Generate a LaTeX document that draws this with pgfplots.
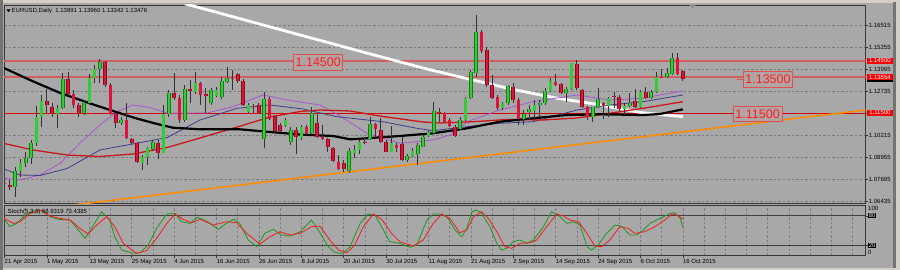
\documentclass[border=0pt]{standalone}
\usepackage{pgfplots}
\usepackage{pgfplotstable}
\pgfplotsset{compat=1.18}
\usepackage{fontspec}
\setmainfont{Liberation Sans}
\definecolor{chartbg}{RGB}{168,168,168}
\definecolor{framebg}{RGB}{212,208,200}
\definecolor{gridc}{RGB}{125,125,125}
\definecolor{axc}{RGB}{55,55,55}
\definecolor{bullin}{RGB}{50,205,50}
\definecolor{bullout}{RGB}{25,120,25}
\definecolor{bearin}{RGB}{220,20,60}
\definecolor{bearout}{RGB}{130,10,25}
\definecolor{wickc}{RGB}{50,50,50}
\definecolor{maRed}{RGB}{200,25,25}
\definecolor{maPurple}{RGB}{170,85,210}
\definecolor{maBlue}{RGB}{65,60,140}
\definecolor{hlinec}{RGB}{210,95,95}
\definecolor{lblred}{RGB}{255,30,30}
\definecolor{boxline}{RGB}{225,80,80}
\definecolor{boxfill}{RGB}{176,164,164}
\definecolor{trendc}{RGB}{255,140,0}
\definecolor{stochG}{RGB}{30,150,30}
\definecolor{stochR}{RGB}{240,30,30}
\newcommand\sm{\fontsize{6}{7}\selectfont}

\pgfplotstableread{
i o h l c
2 1.07258 1.08408 1.06683 1.08178
3 1.08178 1.08833 1.07833 1.08638
4 1.08603 1.09270 1.08408 1.08891
5 1.08891 1.09943 1.08563 1.09788
6 1.09788 1.11898 1.09598 1.11248
7 1.11248 1.12531 1.10708 1.12186
10 1.11438 1.11956 1.10616 1.11800
11 1.11800 1.13778 1.11708 1.13433
15 1.11478 1.12243 1.11381 1.12053
16 1.12053 1.13738 1.11956 1.13491
17 1.13491 1.14256 1.13238 1.14026
18 1.14026 1.14583 1.13203 1.14411
22 1.10903 1.11283 1.10806 1.11093
26 1.08638 1.09081 1.08218 1.08983
27 1.08983 1.09558 1.08506 1.09466
28 1.09408 1.09943 1.09328 1.09845
30 1.09213 1.11956 1.09178 1.11438
31 1.11438 1.12818 1.11283 1.12663
34 1.11093 1.13106 1.10995 1.12876
36 1.12720 1.13870 1.12588 1.13238
39 1.12053 1.12916 1.11956 1.12818
40 1.12473 1.13008 1.12398 1.12818
41 1.12433 1.13548 1.12283 1.13336
42 1.13295 1.14158 1.13203 1.13525
46 1.11570 1.12053 1.11513 1.11956
49 1.09983 1.12720 1.09466 1.12283
53 1.10743 1.11191 1.10708 1.11093
54 1.09845 1.10708 1.09656 1.10518
56 1.10041 1.10806 1.09943 1.10708
58 1.10328 1.11823 1.10231 1.11513
65 1.08178 1.09466 1.08028 1.09328
66 1.09178 1.09656 1.08891 1.09368
67 1.09368 1.09943 1.09138 1.09845
69 1.10001 1.11283 1.09943 1.10846
73 1.09270 1.10765 1.09236 1.09753
76 1.08793 1.09138 1.08695 1.09023
77 1.09040 1.09466 1.08966 1.09328
78 1.09138 1.09753 1.08506 1.09656
79 1.09558 1.10231 1.09523 1.10133
80 1.10190 1.10518 1.10133 1.10420
81 1.10328 1.12145 1.10271 1.11611
86 1.10576 1.11283 1.10518 1.11093
87 1.11093 1.12433 1.11036 1.12375
88 1.12341 1.13968 1.12283 1.13836
89 1.13824 1.17131 1.13583 1.16170
94 1.11766 1.12145 1.11668 1.12053
95 1.12053 1.13106 1.11956 1.13065
98 1.11133 1.11668 1.10806 1.11421
99 1.11570 1.11956 1.11093 1.11708
100 1.11628 1.12243 1.11093 1.11956
101 1.11956 1.12243 1.11283 1.12053
102 1.12053 1.12916 1.11956 1.12761
103 1.12761 1.13491 1.12720 1.13336
106 1.12628 1.13008 1.12145 1.12876
107 1.12876 1.14388 1.12818 1.14353
111 1.11248 1.11858 1.10995 1.11823
112 1.11823 1.12916 1.11766 1.12283
114 1.11898 1.12433 1.11283 1.12375
117 1.11708 1.12053 1.11381 1.11898
118 1.11898 1.12628 1.11823 1.12053
120 1.11823 1.12818 1.11766 1.12720
122 1.12341 1.12818 1.12283 1.12720
123 1.12720 1.13870 1.12663 1.13548
125 1.13548 1.14066 1.13491 1.13778
126 1.13738 1.14928 1.13681 1.14675
}\bull

\pgfplotstableread{
i o h l c
0 1.07442 1.07585 1.07240 1.07384
1 1.07356 1.07643 1.07068 1.07258
8 1.12186 1.12858 1.11478 1.11956
9 1.11858 1.12088 1.11283 1.11438
12 1.13433 1.13870 1.12473 1.12588
13 1.12588 1.12818 1.11766 1.11956
14 1.11956 1.12053 1.11283 1.11478
19 1.14411 1.14457 1.13008 1.13106
20 1.13106 1.13203 1.11381 1.11438
21 1.11438 1.11513 1.10616 1.10903
23 1.11093 1.12053 1.09983 1.10041
24 1.09983 1.10041 1.09713 1.09753
25 1.09753 1.09845 1.08603 1.08695
29 1.09753 1.09943 1.08833 1.09213
32 1.12663 1.13778 1.12243 1.12341
33 1.12341 1.12531 1.10903 1.11093
35 1.12876 1.13393 1.12053 1.12778
37 1.13203 1.13295 1.11956 1.12531
38 1.12588 1.12916 1.11478 1.12490
43 1.13491 1.13968 1.12818 1.13433
44 1.13721 1.13778 1.13203 1.13353
45 1.13353 1.13433 1.11898 1.11956
47 1.11898 1.11996 1.11478 1.11823
48 1.11956 1.12053 1.11478 1.11513
50 1.12283 1.12398 1.11093 1.11133
51 1.11323 1.11381 1.10420 1.10461
52 1.10788 1.10903 1.10420 1.10461
55 1.10518 1.10708 1.09138 1.10133
57 1.10708 1.10806 1.10231 1.10328
59 1.10903 1.11478 1.10041 1.10098
60 1.10133 1.10806 1.09943 1.09983
61 1.09983 1.10041 1.09270 1.09523
62 1.09466 1.09558 1.08695 1.08753
63 1.08695 1.09081 1.08218 1.08258
64 1.08621 1.08793 1.08103 1.08247
68 1.09845 1.10133 1.09696 1.09753
70 1.10846 1.10903 1.10041 1.10576
71 1.10518 1.11191 1.09753 1.09811
72 1.09811 1.09943 1.09236 1.09270
74 1.09656 1.09753 1.09270 1.09500
75 1.09696 1.10133 1.08736 1.08793
82 1.11570 1.11766 1.10995 1.11478
83 1.11478 1.11536 1.10961 1.10995
84 1.11093 1.11191 1.10708 1.10765
85 1.10708 1.10806 1.10133 1.10190
90 1.16170 1.16268 1.14946 1.15061
91 1.15118 1.15308 1.13008 1.13106
92 1.13106 1.13681 1.12301 1.12375
93 1.12433 1.12531 1.11668 1.11766
96 1.13008 1.13203 1.12053 1.12243
97 1.12243 1.12341 1.10806 1.11133
104 1.13278 1.13721 1.13065 1.13106
105 1.13146 1.13203 1.12588 1.12628
108 1.14296 1.14543 1.12818 1.12916
109 1.12818 1.12858 1.11766 1.11823
110 1.11823 1.11898 1.11093 1.11248
113 1.12053 1.12145 1.11133 1.11898
115 1.12473 1.12720 1.11766 1.12398
116 1.12433 1.12531 1.11628 1.11708
119 1.12186 1.12858 1.11766 1.11823
121 1.12720 1.13008 1.12301 1.12341
124 1.13566 1.14008 1.13491 1.13525
127 1.14675 1.14928 1.13681 1.13738
128 1.13891 1.13960 1.13342 1.13476
}\bear

\begin{document}
\begin{tikzpicture}
\useasboundingbox (0pt,0pt) rectangle (900pt,270pt);
\fill[framebg] (0pt,0pt) rectangle (900pt,270pt);
\fill[chartbg] (2pt,2pt) rectangle (894pt,267pt);
\fill[black!55] (893pt,2pt) rectangle (896pt,268pt);
\fill[black!55] (0pt,0pt) rectangle (2.5pt,270pt);

% ---------------- main price panel ----------------
\begin{axis}[
  at={(4pt,66.7pt)}, anchor=south west, scale only axis,
  width=861.7pt, height=198.3pt,
  xmin=-0.1, xmax=162.5, ymin=1.06303, ymax=1.17706,
  axis line style={draw=axc, line width=0.8pt},
  xtick=\empty, minor xtick={0,4,...,160},
  xminorgrids,
  minor x grid style={gridc, dash pattern=on 2.5pt off 2pt, line width=0.6pt},
  ytick={1.06435,1.07695,1.08955,1.10215,1.11475,1.12735,1.13995,1.15255,1.16515},
  yticklabels={1.06435,1.07695,1.08955,1.10215,{},1.12735,1.13995,1.15255,1.16515},
  ymajorgrids,
  major y grid style={gridc, dash pattern=on 2.5pt off 2pt, line width=0.6pt},
  ytick pos=right, yticklabel pos=right,
  yticklabel style={font=\sm, anchor=west, inner sep=0pt, xshift=1pt},
  tick align=outside, major tick length=2pt, minor tick length=0pt,
  tick style={draw=axc, line width=0.6pt},
  clip mode=individual,
]
% horizontal levels and trend line
\addplot[hlinec, line width=1.6pt] coordinates {(-1,1.14500) (170,1.14500)};
\addplot[hlinec, line width=1.6pt] coordinates {(-1,1.13554) (170,1.13554)};
\addplot[red!85!black, line width=0.8pt] coordinates {(-1,1.11500) (170,1.11500)};
\addplot[trendc, line width=1.6pt] coordinates {(10,1.06098) (162.5,1.11668)};
% moving averages
\addplot[white, line width=2.8pt] coordinates {(34,1.17780)(40,1.17286)(48,1.16624)(56,1.15963)(64,1.15302)(72,1.14646)(80,1.14003)(88,1.13422)(96,1.12847)(104,1.12358)(112,1.11984)(120,1.11524)(128,1.11283)};
\addplot[maPurple, line width=0.8pt] coordinates {(0.1,1.07741)(2.9,1.07643)(6.7,1.07931)(10.5,1.08603)(14.2,1.09753)(18,1.10805)(21.2,1.11570)(24.2,1.11956)(27.5,1.11812)(30.7,1.11478)(38.2,1.11496)(43.1,1.11858)(48.8,1.12531)(53.3,1.12243)(59.5,1.11956)(62.7,1.11438)(68.4,1.10328)(74.6,1.09753)(80.8,1.09943)(84.1,1.10230)(87.3,1.10995)(93.5,1.11668)(99.7,1.12145)(108,1.12531)(114.2,1.12243)(120.5,1.12341)(123.7,1.12531)(128,1.12761)};
\addplot[maBlue, line width=0.8pt] coordinates {(-0.9,1.08362)(2.9,1.07931)(6.7,1.07902)(11.8,1.08304)(18,1.09368)(24.2,1.09713)(30.7,1.10087)(36.9,1.11093)(43.9,1.11766)(50.1,1.11956)(56.3,1.11726)(62.7,1.11283)(71.4,1.10995)(77.8,1.10616)(80.8,1.10478)(87.3,1.10708)(93.5,1.10903)(99.7,1.10995)(108,1.11668)(114.2,1.11956)(120.5,1.12145)(128,1.12531)};
\addplot[maRed, line width=1.3pt] coordinates {(-0.9,1.09799)(5.4,1.09368)(11.8,1.09080)(18,1.08994)(24.2,1.09138)(30.7,1.09512)(36.9,1.10058)(43.9,1.10690)(50.1,1.11266)(55.8,1.11582)(59.5,1.11668)(65.2,1.11611)(71.4,1.11294)(79,1.10978)(82.2,1.10921)(88.4,1.10995)(94.8,1.11122)(101.6,1.11093)(108,1.11208)(114.2,1.11478)(120.5,1.11766)(128,1.12145)};
\addplot[black, line width=2.2pt] coordinates {(-0.9,1.14112)(0,1.14066)(4.8,1.13393)(10.5,1.12646)(16.1,1.12053)(19.9,1.11668)(24.6,1.11208)(28.8,1.10863)(31.8,1.10650)(36.9,1.10558)(44.4,1.10558)(49.5,1.10420)(55.8,1.10259)(62,1.10173)(65.2,1.09983)(68.4,1.10041)(74.6,1.10173)(80.8,1.10328)(87.3,1.10616)(93.5,1.10995)(99.7,1.11191)(106.1,1.11380)(112.4,1.11421)(120.5,1.11380)(123.7,1.11438)(128,1.11708)};
% candles: wicks
\addplot[quiver={u=0,v=\thisrow{h}-\thisrow{l}}, draw=wickc, line width=0.9pt] table[x=i,y=l]{\bull};
\addplot[quiver={u=0,v=\thisrow{h}-\thisrow{l}}, draw=wickc, line width=0.9pt] table[x=i,y=l]{\bear};
% bodies
\addplot[quiver={u=0,v=\thisrow{c}-\thisrow{o}}, draw=bullout, line width=3.6pt] table[x=i,y=o]{\bull};
\addplot[quiver={u=0,v=\thisrow{c}-\thisrow{o}}, draw=bullin, line width=2.4pt] table[x=i,y=o]{\bull};
\addplot[quiver={u=0,v=\thisrow{c}-\thisrow{o}}, draw=bearout, line width=3.6pt] table[x=i,y=o]{\bear};
\addplot[quiver={u=0,v=\thisrow{c}-\thisrow{o}}, draw=bearin, line width=2.4pt] table[x=i,y=o]{\bear};
% text objects
\node[draw=boxline, line width=0.8pt, fill=boxfill, text=lblred, font=\fontsize{12.5}{13}\selectfont, inner sep=0pt, minimum width=49pt, minimum height=15.7pt] at (axis cs:59.2,1.14417) {1.14500};
\draw[boxline, line width=0.8pt] (axis cs:138.2,1.13433) -- (axis cs:139.4,1.13433);
\node[draw=boxline, line width=0.8pt, fill=boxfill, text=lblred, font=\fontsize{12.5}{13}\selectfont, inner sep=0pt, minimum width=49pt, minimum height=15.7pt] at (axis cs:144.06,1.13422) {1.13500};
\node[draw=boxline, line width=0.8pt, fill=boxfill, text=lblred, font=\fontsize{12.5}{13}\selectfont, inner sep=0pt, minimum width=49pt, minimum height=15.7pt] at (axis cs:142.1,1.11447) {1.11500};
% price-scale tags
\node[anchor=west, fill=red, text=white, font=\sm, inner sep=0pt, minimum width=26pt, minimum height=6.2pt, xshift=1pt] at ({rel axis cs:1,0}|-{axis cs:0,1.14500}) {1.14500};
\node[anchor=west, fill=black, text=white, font=\sm, inner sep=0pt, minimum width=26pt, minimum height=6.2pt, xshift=1pt] at ({rel axis cs:1,0}|-{axis cs:0,1.13476}) {};
\node[anchor=west, fill=red, text=white, font=\sm, inner sep=0pt, minimum width=26pt, minimum height=6.2pt, xshift=1pt] at ({rel axis cs:1,0}|-{axis cs:0,1.13554}) {1.13554};
\node[anchor=west, fill=red, text=white, font=\sm, inner sep=0pt, minimum width=26pt, minimum height=6.2pt, xshift=1pt] at ({rel axis cs:1,0}|-{axis cs:0,1.11500}) {1.11500};
\end{axis}

% ---------------- stochastic panel ----------------
\begin{axis}[
  at={(4pt,14.3pt)}, anchor=south west, scale only axis,
  width=861.7pt, height=50.7pt,
  xmin=-0.1, xmax=162.5, ymin=-1, ymax=102,
  axis line style={draw=axc, line width=0.8pt},
  xtick={0,8,...,128},
  xticklabels={21 Apr 2015,1 May 2015,13 May 2015,25 May 2015,4 Jun 2015,16 Jun 2015,26 Jun 2015,8 Jul 2015,20 Jul 2015,30 Jul 2015,11 Aug 2015,21 Aug 2015,2 Sep 2015,14 Sep 2015,24 Sep 2015,6 Oct 2015,16 Oct 2015},
  xticklabel style={font=\sm, anchor=north west, inner sep=0pt, yshift=-1pt},
  xtick pos=left,
  minor xtick={0,4,...,160}, xminorgrids,
  minor x grid style={gridc, dash pattern=on 2.5pt off 2pt, line width=0.6pt},
  ytick={20,80}, yticklabels={20,80},
  ymajorgrids, major y grid style={black!75, line width=1pt},
  ytick pos=right, yticklabel pos=right,
  yticklabel style={font=\sm, fill=black, text=white!85!gray, inner sep=0.4pt, anchor=west, xshift=0.5pt},
  tick align=outside, major tick length=2pt, minor tick length=0pt,
  tick style={draw=axc, line width=0.6pt},
  clip mode=individual,
]
\addplot[stochG, line width=0.8pt] coordinates {(-0.1,74.8)(1.0,57.9)(2.3,64.6)(3.9,81.5)(5.4,90.3)(7.3,90.3)(8.6,78.2)(10.2,72.8)(12.4,71.4)(14.2,47.7)(15.2,34.2)(16.8,61.3)(18.3,88.3)(19.9,71.4)(20.8,37.6)(22.1,10.5)(24.3,3.8)(25.6,5.1)(27.1,20.7)(28.7,54.5)(30.6,83.6)(32.2,84.9)(33.4,68.0)(35.0,64.6)(36.3,76.8)(37.5,72.8)(38.8,64.6)(40.3,52.5)(41.9,64.6)(43.2,72.8)(44.4,64.6)(46.0,30.8)(47.6,17.3)(49.1,44.4)(50.7,52.5)(52.3,41.0)(53.9,38.9)(55.8,47.7)(57.9,71.4)(59.2,51.1)(61.1,17.3)(62.4,5.1)(63.9,3.8)(65.2,17.3)(67.1,64.6)(68.6,83.6)(69.9,81.5)(71.5,51.1)(72.7,27.5)(74.6,24.1)(76.5,16.0)(77.8,20.7)(79.7,71.4)(80.9,83.6)(82.2,83.6)(83.4,78.2)(84.1,68.0)(85.0,51.1)(86.3,37.6)(87.2,54.5)(88.2,88.3)(89.1,91.7)(90.0,84.9)(91.6,57.9)(92.9,24.1)(93.8,10.5)(94.7,13.9)(96.0,27.5)(97.3,30.8)(98.5,24.1)(99.8,30.8)(101.7,57.9)(103.2,88.3)(104.5,81.5)(106.1,64.6)(107.3,68.0)(108.6,61.3)(109.9,17.3)(110.8,10.5)(112.0,20.7)(113.6,44.4)(115.2,61.3)(116.4,59.2)(118.0,41.0)(119.3,41.0)(120.5,51.1)(121.8,64.6)(123.7,74.8)(125.6,84.9)(126.5,86.3)(127.5,74.8)(128,56.9)};
\addplot[stochR, line width=0.8pt] coordinates {(-0.1,74.8)(1.7,64.6)(2.9,68.0)(4.8,84.9)(6.7,91.7)(8.6,79.5)(10.5,74.8)(12.4,71.4)(14.2,54.5)(15.8,43.0)(17.4,61.3)(19.3,78.2)(20.8,57.9)(22.4,24.1)(24.9,3.8)(26.8,9.2)(28.7,34.2)(30.6,64.6)(32.2,83.6)(33.7,72.8)(35.3,66.0)(36.9,72.8)(39.4,61.3)(41.9,68.0)(43.8,66.0)(45.7,44.4)(48.2,22.7)(50.1,37.6)(52.0,47.7)(53.9,41.0)(55.8,44.4)(57.9,57.9)(59.5,59.2)(61.4,30.8)(63.0,10.5)(64.6,5.1)(66.1,20.7)(67.7,57.9)(69.6,83.6)(71.2,72.8)(73.0,44.4)(74.6,27.5)(77.1,18.7)(79.0,30.8)(80.9,64.6)(82.5,83.6)(84.1,74.0)(85.9,45.7)(87.2,51.1)(88.5,78.2)(90.0,88.3)(91.3,74.8)(92.9,47.7)(94.4,17.3)(95.7,13.9)(97.3,24.1)(99.2,25.4)(100.4,30.8)(102.3,57.9)(104.2,83.6)(105.5,79.5)(106.7,71.4)(108.3,68.0)(109.9,44.4)(111.4,18.7)(112.7,17.3)(114.2,30.8)(116.1,57.9)(117.7,54.5)(118.9,44.4)(120.8,47.7)(122.7,57.9)(124.6,71.4)(125.9,83.6)(126.9,81.5)(128,73.4)};
\end{axis}

% labels outside axes
\fill[black] (6.5pt,260.5pt) -- (10.5pt,260.5pt) -- (8.5pt,257.8pt) -- cycle;
\node[anchor=west, font=\sm, inner sep=0pt] at (11.5pt,259pt) {EURUSD,Daily\ \ 1.13891 1.13960 1.13342 1.13476};
\node[anchor=west, font=\sm, inner sep=0pt] at (7.5pt,58.5pt) {Stoch(5,3,3) 56.9319 73.4385};
\node[anchor=west, font=\sm, inner sep=0pt] at (868pt,62pt) {100};
\node[anchor=west, font=\sm, inner sep=0pt] at (868pt,17.5pt) {0};
\fill[black!45] (689.5pt,265pt) -- (695.5pt,265pt) -- (692.5pt,261.5pt) -- cycle;
\end{tikzpicture}
\end{document}
